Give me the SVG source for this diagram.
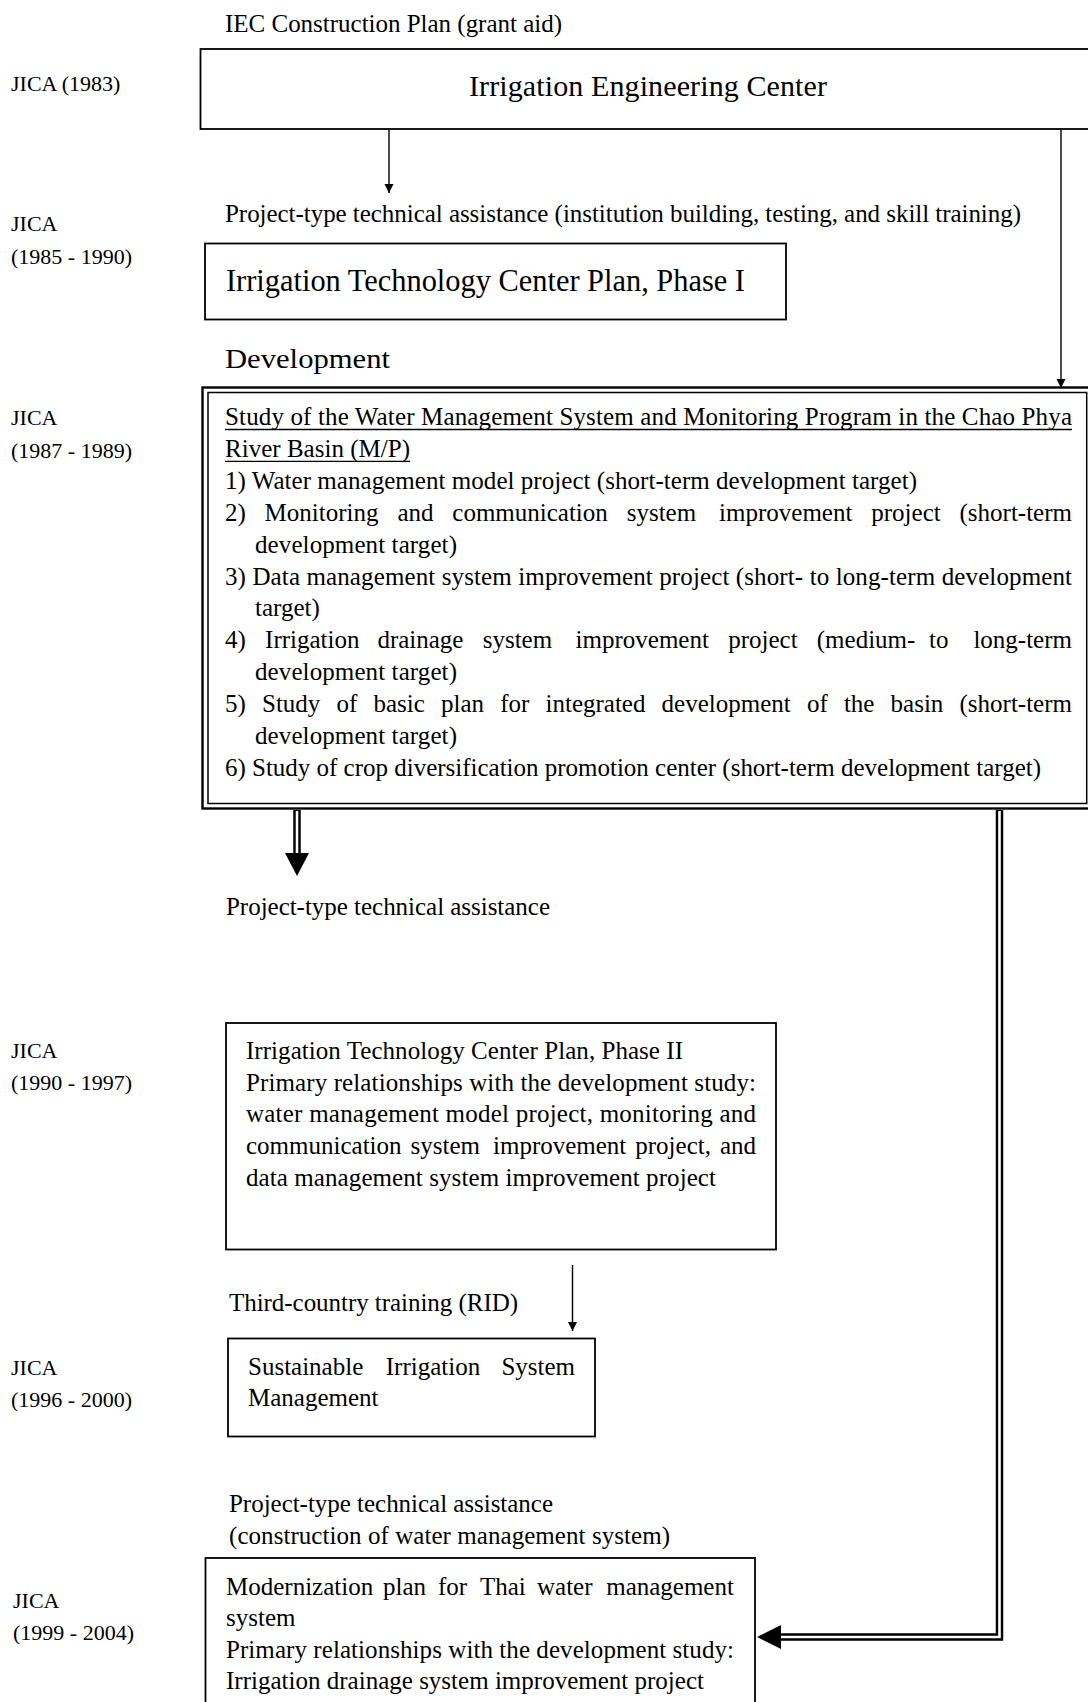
<svg xmlns="http://www.w3.org/2000/svg" width="1088" height="1702" viewBox="0 0 1088 1702">
<style>
text{font-family:"Liberation Serif","Times New Roman",serif;fill:#000}
.b{font-size:25px}
.l{font-size:22px}
.box{fill:#fff;stroke:#000;stroke-width:1.8}
.thin{fill:none;stroke:#000;stroke-width:1.4}
.dblk{fill:none;stroke:#000;stroke-width:7.5;stroke-linejoin:miter}
.dwht{fill:none;stroke:#fff;stroke-width:2.6;stroke-linejoin:miter}
.ul{stroke:#000;stroke-width:1.4}
</style>
<defs>
<marker id="ah" markerWidth="10" markerHeight="10" refX="9" refY="4.5" orient="auto" markerUnits="userSpaceOnUse">
<path d="M0,0 L9,4.5 L0,9 z" fill="#000"/>
</marker>
</defs>
<rect width="1088" height="1702" fill="#fff"/>

<g id="labels">
<text class="b" x="225" y="32" textLength="337">IEC Construction Plan (grant aid)</text>
<text class="l" x="11" y="91">JICA (1983)</text>
<text class="b" x="225" y="222" textLength="796">Project-type technical assistance (institution building, testing, and skill training)</text>
<text class="l" x="11" y="231">JICA</text>
<text class="l" x="11" y="264">(1985 - 1990)</text>
<text x="225" y="368" font-size="28" textLength="165" lengthAdjust="spacingAndGlyphs">Development</text>
<text class="l" x="11" y="425">JICA</text>
<text class="l" x="11" y="458">(1987 - 1989)</text>
<text class="b" x="226" y="915" textLength="324">Project-type technical assistance</text>
<text class="l" x="11" y="1058">JICA</text>
<text class="l" x="11" y="1090">(1990 - 1997)</text>
<text class="b" x="229" y="1311" textLength="289">Third-country training (RID)</text>
<text class="l" x="11" y="1375">JICA</text>
<text class="l" x="11" y="1407">(1996 - 2000)</text>
<text class="b" x="229" y="1512" textLength="324">Project-type technical assistance</text>
<text class="b" x="229" y="1544" textLength="441">(construction of water management system)</text>
<text class="l" x="13" y="1608">JICA</text>
<text class="l" x="13" y="1640">(1999 - 2004)</text>
</g>

<g id="node-iec">
<rect class="box" x="200.5" y="49" width="900" height="80"/>
<text x="469" y="96" font-size="30" textLength="358">Irrigation Engineering Center</text>
</g>

<g id="node-phase1">
<rect class="box" x="205" y="243.5" width="581" height="76"/>
<text x="226" y="291" font-size="31" textLength="519" lengthAdjust="spacingAndGlyphs">Irrigation Technology Center Plan, Phase I</text>
</g>

<g id="node-study">
<rect fill="#fff" stroke="#000" stroke-width="2.4" x="202.5" y="387.5" width="900" height="421"/>
<rect fill="#fff" stroke="#000" stroke-width="1.5" x="208" y="392.5" width="878.7" height="411"/>
<text class="b" x="225" y="425" textLength="847">Study of the Water Management System and Monitoring Program in the Chao Phya</text>
<line class="ul" x1="225" y1="429.5" x2="1072" y2="429.5"/>
<text class="b" x="225" y="456.9" textLength="185">River Basin (M/P)</text>
<line class="ul" x1="225" y1="461.4" x2="410" y2="461.4"/>
<text class="b" x="225" y="488.8" textLength="692">1) Water management model project (short-term development target)</text>
<text class="b" y="520.7"><tspan x="225">2)</tspan> <tspan x="264.6">Monitoring</tspan> <tspan x="397.4">and</tspan> <tspan x="452.3">communication</tspan> <tspan x="626.7">system</tspan> <tspan x="719.1">improvement</tspan> <tspan x="871.3">project</tspan> <tspan x="959.5">(short-term</tspan></text>
<text class="b" x="255" y="552.6" textLength="202">development target)</text>
<text class="b" x="225" y="584.5" textLength="847">3) Data management system improvement project (short- to long-term development</text>
<text class="b" x="255" y="616.4">target)</text>
<text class="b" y="648.3"><tspan x="225">4)</tspan> <tspan x="265.1">Irrigation</tspan> <tspan x="377.4">drainage</tspan> <tspan x="482.7">system</tspan> <tspan x="575.6">improvement</tspan> <tspan x="728.2">project</tspan> <tspan x="816.8">(medium-</tspan> <tspan x="929">to</tspan> <tspan x="973.4">long-term</tspan></text>
<text class="b" x="255" y="680.2" textLength="202">development target)</text>
<text class="b" y="712.1"><tspan x="225">5)</tspan> <tspan x="262">Study</tspan> <tspan x="336.5">of</tspan> <tspan x="373.5">basic</tspan> <tspan x="441">plan</tspan> <tspan x="500.2">for</tspan> <tspan x="545.5">integrated</tspan> <tspan x="661.6">development</tspan> <tspan x="806.9">of</tspan> <tspan x="843.9">the</tspan> <tspan x="890.6">basin</tspan> <tspan x="959.5">(short-term</tspan></text>
<text class="b" x="255" y="744" textLength="202">development target)</text>
<text class="b" x="225" y="775.9" textLength="816">6) Study of crop diversification promotion center (short-term development target)</text>
</g>

<g id="node-phase2">
<rect class="box" x="226" y="1023" width="550" height="226.5"/>
<text class="b" x="246" y="1059" textLength="437">Irrigation Technology Center Plan, Phase II</text>
<text class="b" x="246" y="1090.5" textLength="510">Primary relationships with the development study:</text>
<text class="b" x="246" y="1122" textLength="510">water management model project, monitoring and</text>
<text class="b" y="1154"><tspan x="246">communication</tspan> <tspan x="410.5">system</tspan> <tspan x="493">improvement</tspan> <tspan x="635.3">project,</tspan> <tspan x="719.9">and</tspan></text>
<text class="b" x="246" y="1185.5" textLength="470">data management system improvement project</text>
</g>

<g id="node-sism">
<rect class="box" x="228" y="1338.5" width="367" height="98"/>
<text class="b" y="1375"><tspan x="248">Sustainable</tspan> <tspan x="385.8">Irrigation</tspan> <tspan x="501.4">System</tspan></text>
<text class="b" x="248" y="1406">Management</text>
</g>

<g id="node-modern">
<rect class="box" x="205.5" y="1558" width="549.5" height="200"/>
<text class="b" y="1595"><tspan x="226">Modernization</tspan> <tspan x="383">plan</tspan> <tspan x="438">for</tspan> <tspan x="480">Thai</tspan> <tspan x="537">water</tspan> <tspan x="606.2">management</tspan></text>
<text class="b" x="226" y="1626">system</text>
<text class="b" x="226" y="1658" textLength="508">Primary relationships with the development study:</text>
<text class="b" x="226" y="1689" textLength="478">Irrigation drainage system improvement project</text>
</g>

<g id="connectors">
<path class="thin" d="M389,130 V193" marker-end="url(#ah)"/>
<path class="thin" d="M1061,130 V388" marker-end="url(#ah)"/>
<path class="thin" d="M572.5,1265 V1331" marker-end="url(#ah)"/>
<path class="dblk" d="M297,810 V855"/>
<path class="dwht" d="M297,811 V855"/>
<polygon points="285,853 309,853 297,876" fill="#000"/>
<path class="dblk" d="M999.5,810 V1637 H779"/>
<path class="dwht" d="M999.5,811 V1637 H781"/>
<polygon points="757,1637 781,1625 781,1649" fill="#000"/>
</g>
</svg>
